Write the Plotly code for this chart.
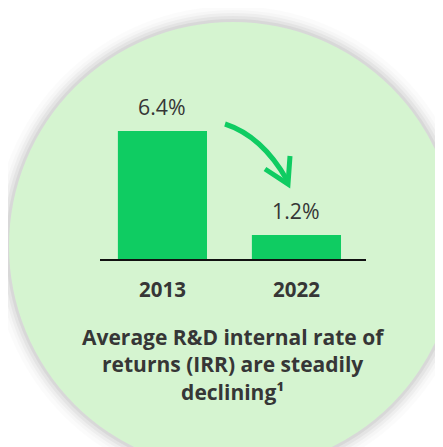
import plotly.graph_objects as go

years = ["2013", "2022"]
irr = [6.4, 1.2]
labels = ["6.4%", "1.2%"]
title_lines = ["Average R&D internal rate of", "returns (IRR) are steadily", "declining¹"]

OFF = 8  # page body margin
W, H = 443 - OFF, 447 - OFF
GREEN = "#0fcc62"
TEXT = "#363636"

def px(x):
    return (x - OFF) / W

def py(y):
    return 1 - (y - OFF) / H

fig = go.Figure()
fig.add_trace(go.Bar(
    x=years, y=irr,
    marker=dict(color=GREEN, line=dict(width=0)),
    width=0.665, hoverinfo="skip",
))

shapes = []
cx, cy, r = 233, 246, 224
for dr, op in [(16, 0.015), (12, 0.02), (9, 0.03), (6, 0.04), (3, 0.05)]:
    shapes.append(dict(type="circle", xref="paper", yref="paper",
                       x0=px(cx - r - dr), x1=px(cx + r + dr),
                       y0=py(cy + r + dr), y1=py(cy - r - dr),
                       fillcolor="rgba(0,0,0,%s)" % op, line=dict(width=0), layer="below"))
shapes.append(dict(type="circle", xref="paper", yref="paper",
                   x0=px(cx - r), x1=px(cx + r), y0=py(cy + r), y1=py(cy - r),
                   fillcolor="#d5f4d0", line=dict(width=0), layer="below"))

def path(pts, cmd):
    return cmd.format(*[v for p in pts for v in (px(p[0]), py(p[1]))])

shapes.append(dict(type="path", xref="paper", yref="paper",
                   path=path([(225, 124), (262, 136), (287, 180)], "M {0},{1} Q {2},{3} {4},{5}"),
                   line=dict(color=GREEN, width=5), layer="above"))
shapes.append(dict(type="path", xref="paper", yref="paper",
                   path=path([(265, 169), (288, 184), (290, 156)], "M {0},{1} L {2},{3} L {4},{5}"),
                   line=dict(color=GREEN, width=5), layer="above"))

annotations = [dict(x=i, y=v, xref="x", yref="y", text=t, showarrow=False,
                    xanchor="center", yanchor="bottom", yshift=8,
                    font=dict(family="Open Sans", size=21.3, color=TEXT))
               for i, (v, t) in enumerate(zip(irr, labels))]
annotations.append(dict(xref="paper", yref="paper", x=px(233), y=py(364),
                        xanchor="center", yanchor="middle", showarrow=False,
                        text="<b>" + "<br>".join(title_lines) + "</b>", align="center",
                        font=dict(family="Open Sans", size=21, color=TEXT)))

fig.update_layout(
    width=W, height=H,
    margin=dict(l=0, r=0, t=0, b=0),
    paper_bgcolor="white", plot_bgcolor="rgba(0,0,0,0)",
    showlegend=False,
    shapes=shapes,
    xaxis=dict(type="category", domain=[px(100), px(366)], range=[-0.466, 1.519],
               showline=True, linecolor="#111", linewidth=2,
               showgrid=False, zeroline=False, ticks="", ticklabelstandoff=11,
               tickfont=dict(family="Open Sans", size=20.5, color=TEXT, weight="bold"),
               fixedrange=True),
    yaxis=dict(domain=[py(259), py(60)], range=[0, (259 - 60) / 20],
               showticklabels=False, showline=False, showgrid=False, zeroline=False,
               fixedrange=True),
    annotations=annotations,
)

fig.write_html("out.html", config={"displayModeBar": False})
